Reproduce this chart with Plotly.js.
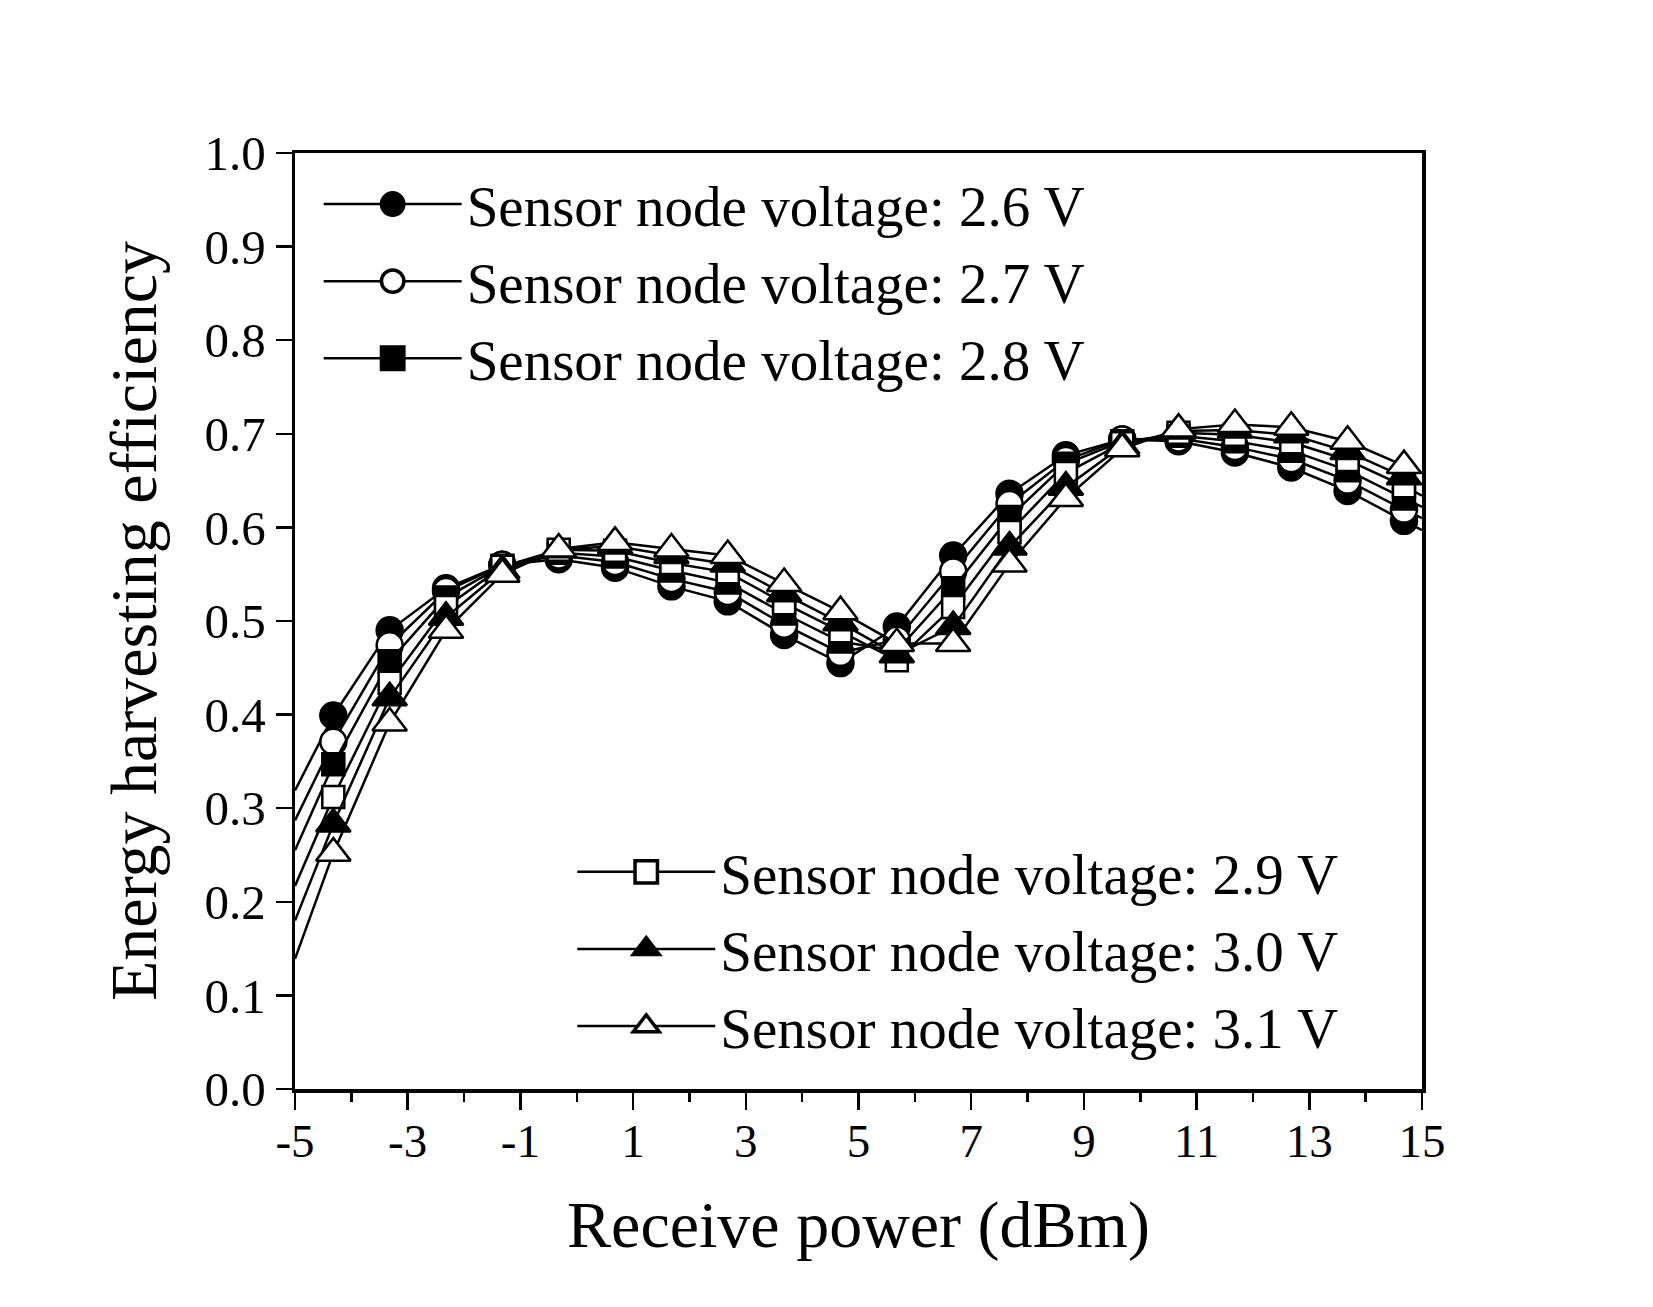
<!DOCTYPE html>
<html>
<head>
<meta charset="utf-8">
<script src="https://cdn.plot.ly/plotly-3.0.1.min.js"></script>
<style>
  html, body { margin: 0; padding: 0; background: #ffffff; }
  #chart { width: 1653px; height: 1307px; }
</style>
</head>
<body>
<div id="chart"></div>
<script>
// Receive power (dBm) at each measured point
const receivePower = [-4.32, -3.32, -2.32, -1.32, -0.32, 0.68, 1.68, 2.68, 3.68, 4.68,
                      5.68, 6.68, 7.68, 8.68, 9.68, 10.68, 11.68, 12.68, 13.68, 14.68];

// Energy harvesting efficiency for each sensor node voltage
const eff26 = [0.399, 0.490, 0.535, 0.560, 0.566, 0.557, 0.537, 0.521, 0.485, 0.455,
               0.494, 0.570, 0.636, 0.677, 0.694, 0.692, 0.680, 0.664, 0.639, 0.607];
const eff27 = [0.371, 0.474, 0.532, 0.560, 0.570, 0.563, 0.545, 0.531, 0.496, 0.466,
               0.480, 0.553, 0.625, 0.672, 0.694, 0.695, 0.686, 0.673, 0.650, 0.619];
const eff28 = [0.347, 0.457, 0.525, 0.559, 0.573, 0.569, 0.554, 0.541, 0.508, 0.478,
               0.468, 0.535, 0.611, 0.668, 0.692, 0.698, 0.692, 0.682, 0.661, 0.631];
const eff29 = [0.312, 0.434, 0.515, 0.558, 0.576, 0.575, 0.562, 0.552, 0.519, 0.489,
               0.458, 0.515, 0.595, 0.658, 0.690, 0.701, 0.699, 0.691, 0.672, 0.644];
const eff30 = [0.283, 0.418, 0.504, 0.554, 0.576, 0.580, 0.570, 0.561, 0.529, 0.498,
               0.464, 0.494, 0.579, 0.643, 0.687, 0.703, 0.704, 0.699, 0.681, 0.654];
const eff31 = [0.252, 0.391, 0.490, 0.550, 0.577, 0.584, 0.577, 0.570, 0.540, 0.510,
               0.476, 0.476, 0.561, 0.631, 0.684, 0.705, 0.710, 0.707, 0.692, 0.666];

// Where each curve meets the left (-5 dBm) and right (15 dBm) frame edges
const edgeX = [-5, 15];
const edgeLeft  = [0.319, 0.287, 0.255, 0.217, 0.180, 0.139];
const edgeRight = [0.597, 0.610, 0.622, 0.634, 0.646, 0.658];

// Axis tick values and labels (plain hyphen for negatives)
const xTickValues = [-5, -3, -1, 1, 3, 5, 7, 9, 11, 13, 15];
const xTickLabels = ['-5', '-3', '-1', '1', '3', '5', '7', '9', '11', '13', '15'];

const seriesNames = [
  'Sensor node voltage: 2.6 V',
  'Sensor node voltage: 2.7 V',
  'Sensor node voltage: 2.8 V',
  'Sensor node voltage: 2.9 V',
  'Sensor node voltage: 3.0 V',
  'Sensor node voltage: 3.1 V'
];
const seriesValues = [eff26, eff27, eff28, eff29, eff30, eff31];

// Marker style per series: symbol, fill, size
const markerStyles = [
  { symbol: 'circle',      fill: '#000000', size: 26 },
  { symbol: 'circle',      fill: '#ffffff', size: 26 },
  { symbol: 'square',      fill: '#000000', size: 22 },
  { symbol: 'square',      fill: '#ffffff', size: 22 },
  { symbol: 'triangle-up', fill: '#000000', size: 30 },
  { symbol: 'triangle-up', fill: '#ffffff', size: 30 }
];

const FONT = '"Liberation Serif", "Times New Roman", Times, serif';
const traces = [];

// Line continuations out to the frame edges (drawn first, beneath the markers)
seriesValues.forEach(function (vals, i) {
  const n = vals.length;
  traces.push({
    x: [edgeX[0], receivePower[0]], y: [edgeLeft[i], vals[0]],
    mode: 'lines', line: { color: '#000', width: 2.5 },
    showlegend: false, hoverinfo: 'skip'
  });
  traces.push({
    x: [receivePower[n - 1], edgeX[1]], y: [vals[n - 1], edgeRight[i]],
    mode: 'lines', line: { color: '#000', width: 2.5 },
    showlegend: false, hoverinfo: 'skip'
  });
});

// Measured curves
seriesValues.forEach(function (vals, i) {
  const st = markerStyles[i];
  traces.push({
    x: receivePower, y: vals,
    name: seriesNames[i],
    mode: 'lines+markers',
    line: { color: '#000', width: 2.5 },
    marker: {
      symbol: st.symbol, size: st.size, color: st.fill,
      line: { color: '#000', width: 2.5 }
    },
    legend: i < 3 ? 'legend' : 'legend2',
    cliponaxis: true
  });
});

const legendCommon = {
  font: { family: FONT, size: 57, color: '#000' },
  bgcolor: 'rgba(0,0,0,0)',
  borderwidth: 0,
  itemwidth: 138,
  tracegroupgap: 0,
  itemsizing: 'trace'
};

const layout = {
  width: 1653,
  height: 1307,
  paper_bgcolor: '#ffffff',
  plot_bgcolor: '#ffffff',
  margin: { l: 295, r: 231, t: 153, b: 218, pad: 0 },
  font: { family: FONT, color: '#000' },
  showlegend: true,
  xaxis: {
    range: [-5, 15],
    tickmode: 'array', tickvals: xTickValues, ticktext: xTickLabels,
    ticks: 'outside', ticklen: 17, tickwidth: 2.5, tickcolor: '#000',
    ticklabelstandoff: -9,
    minor: { tickmode: 'linear', tick0: -5, dtick: 1, ticks: 'outside', ticklen: 9, tickwidth: 2.5, tickcolor: '#000' },
    showline: true, linewidth: 3.5, linecolor: '#000', mirror: true,
    showgrid: false, zeroline: false,
    tickfont: { family: FONT, size: 47, color: '#000' },
    title: { text: 'Receive power (dBm)', font: { family: FONT, size: 66, color: '#000' }, standoff: 36 }
  },
  yaxis: {
    range: [0, 1],
    tick0: 0, dtick: 0.1, tickformat: '.1f',
    ticks: 'outside', ticklen: 16, tickwidth: 2.5, tickcolor: '#000',
    showline: true, linewidth: 3.5, linecolor: '#000', mirror: true,
    showgrid: false, zeroline: false,
    tickfont: { family: FONT, size: 49, color: '#000' },
    title: { text: 'Energy harvesting efficiency', font: { family: FONT, size: 66, color: '#000' }, standoff: 27 }
  },
  legend: Object.assign({}, legendCommon, {
    x: 0.021, y: 0.992, xanchor: 'left', yanchor: 'top'
  }),
  legend2: Object.assign({}, legendCommon, {
    x: 0.246, y: 0.02, xanchor: 'left', yanchor: 'bottom'
  })
};

Plotly.newPlot('chart', traces, layout, { staticPlot: true, displayModeBar: false }).then(function (gd) {
  // Enlarge the legend symbols (both legends) to the scale of the plotted markers
  gd.querySelectorAll('.legendpoints path.scatterpts').forEach(function (p) {
    const t = p.getAttribute('transform') || '';
    p.setAttribute('transform', t + ' scale(1.4)');
  });
});
</script>
</body>
</html>
